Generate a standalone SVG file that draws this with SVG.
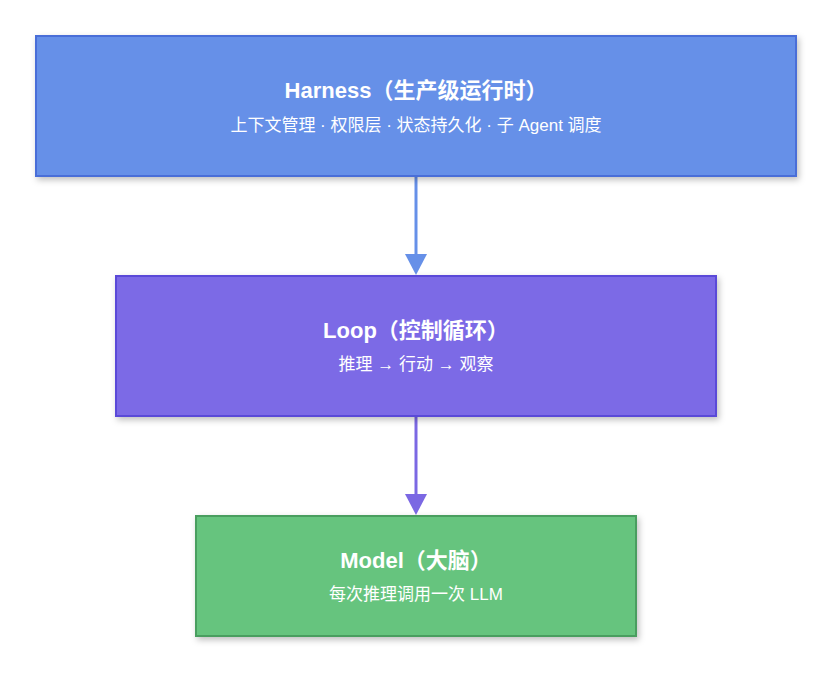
<svg xmlns="http://www.w3.org/2000/svg" width="838" height="676" viewBox="0 0 838 676">
<defs>
<filter id="sh" x="-10%" y="-10%" width="120%" height="130%"><feDropShadow dx="2" dy="3" stdDeviation="3" flood-color="#000" flood-opacity="0.25"/></filter>
<marker id="ab" markerWidth="8" markerHeight="8" refX="7" refY="4" orient="auto" markerUnits="userSpaceOnUse" viewBox="0 0 8 8"><path d="M0,0 L8,4 L0,8 z" fill="#6690e8"/></marker>
<marker id="ap" markerWidth="8" markerHeight="8" refX="7" refY="4" orient="auto" viewBox="0 0 8 8" markerUnits="userSpaceOnUse"><path d="M0,0 L8,4 L0,8 z" fill="#7b68e3"/></marker>
<style>
.t{font-family:"Liberation Sans","Noto Sans CJK SC",sans-serif;fill:#fff;text-anchor:middle}
.h{font-size:22px;font-weight:bold}
.s{font-size:17px}
</style>
</defs>
<rect width="838" height="676" fill="#fff"/>
<g id="connectors">
<line x1="416" y1="177" x2="416" y2="254" stroke="#6690e8" stroke-width="3"/>
<path d="M405,254 L427,254 L416,275 z" fill="#6690e8"/>
<line x1="416" y1="417" x2="416" y2="494" stroke="#7b68e3" stroke-width="3"/>
<path d="M405,494 L427,494 L416,515 z" fill="#7b68e3"/>
</g>
<g id="harness">
<rect x="36" y="36" width="760" height="140" fill="#6690e8" stroke="#4a6ed8" stroke-width="2" filter="url(#sh)"/>
<text class="t h" x="416" y="98">Harness（生产级运行时）</text>
<text class="t s" x="416" y="131">上下文管理 · 权限层 · 状态持久化 · 子 Agent 调度</text>
</g>
<g id="loop">
<rect x="116" y="276" width="600" height="140" fill="#7b6ae6" stroke="#5a4ad8" stroke-width="2" filter="url(#sh)"/>
<text class="t h" x="416" y="338">Loop（控制循环）</text>
<text class="t s" x="416" y="370">推理 → 行动 → 观察</text>
</g>
<g id="model">
<rect x="196" y="516" width="440" height="120" fill="#66c47e" stroke="#4a9e5e" stroke-width="2" filter="url(#sh)"/>
<text class="t h" x="416" y="568">Model（大脑）</text>
<text class="t s" x="416" y="600">每次推理调用一次 LLM</text>
</g>
</svg>
